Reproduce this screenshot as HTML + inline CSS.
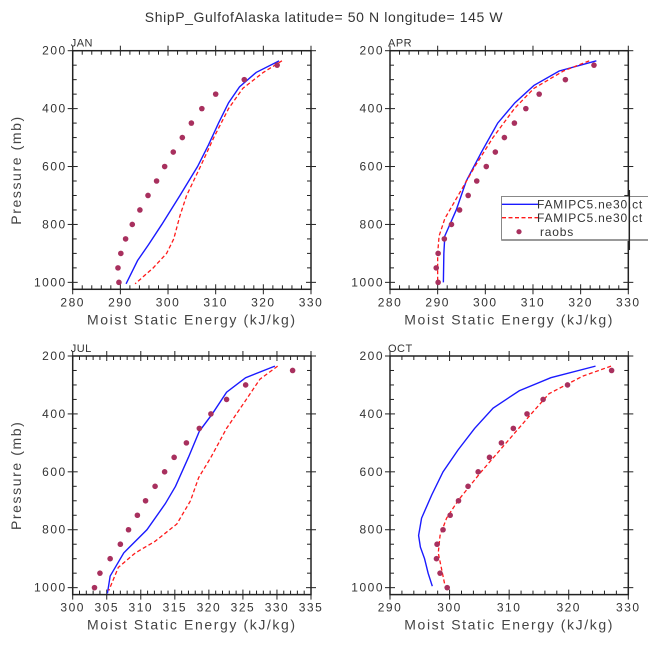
<!DOCTYPE html>
<html><head><meta charset="utf-8">
<style>
html,body{margin:0;padding:0;background:#fff;}
svg{display:block;font-family:"Liberation Sans",sans-serif;}
</style></head>
<body>
<svg id="chart" width="648" height="649" viewBox="0 0 648 649" xmlns="http://www.w3.org/2000/svg">
<rect width="648" height="649" fill="#fff"/>
<text x="324" y="22" font-size="14" letter-spacing="0.6" text-anchor="middle" fill="#333">ShipP_GulfofAlaska  latitude= 50 N longitude= 145 W</text>
</svg>
<script>
// ---- data ----
const panelNames = ["JAN","APR","JUL","OCT"];
const xMins = [280,280,300,290];
const xMaxs = [330,330,335,330];
const xSteps = [10,10,5,10];
const yTicks = [200,400,600,800,1000];

const raobsP = [250,300,350,400,450,500,550,600,650,700,750,800,850,900,950,1000];
const janRaobs = [322.9,316.0,310.0,307.1,304.9,303.0,301.1,299.3,297.6,295.8,294.1,292.5,291.1,290.1,289.5,289.7];
const aprRaobs = [322.8,316.8,311.3,308.5,306.1,304.0,302.1,300.2,298.2,296.4,294.6,292.9,291.4,290.1,289.7,290.1];
const julRaobs = [332.3,325.4,322.6,320.3,318.6,316.7,314.9,313.5,312.1,310.7,309.5,308.2,307.0,305.5,304.0,303.2];
const octRaobs = [327.2,319.8,315.7,313.0,310.7,308.7,306.7,304.8,303.1,301.5,300.1,298.9,297.9,297.8,298.4,299.6];

const janBlueP = [235,275,325,380,450,525,600,700,800,870,925,1005];
const janBlue  = [323.3,318.5,315.0,312.7,310.6,308.5,306.2,302.5,298.7,295.9,293.6,291.2];
const janRedP  = [235,275,330,400,500,600,700,770,850,900,950,1005];
const janRed   = [323.9,320.0,315.7,312.7,309.6,306.8,303.9,302.5,301.2,299.7,296.9,293.1];

const aprBlueP = [235,270,320,380,450,550,650,750,840,900,1000];
const aprBlue  = [323.3,315.5,310.2,306.2,302.6,299.2,296.0,293.9,291.5,291.3,291.2];
const aprRedP  = [235,270,330,400,500,600,700,780,840,900,1000];
const aprRed   = [321.8,316.4,310.2,306.1,301.6,297.8,294.3,291.5,290.3,290.0,290.0];

const julBlueP = [235,275,325,400,460,550,650,710,800,880,960,1020];
const julBlue  = [329.7,325.4,322.6,320.5,318.6,317.0,315.1,313.6,310.9,307.5,305.5,305.1];
const julRedP  = [235,280,350,450,550,620,700,780,840,880,930,1010];
const julRed   = [330.1,327.5,325.5,322.6,320.3,318.5,317.3,315.3,312.1,309.2,306.7,305.3];

const octBlueP = [235,275,320,380,450,525,600,680,760,820,860,900,950,995];
const octBlue  = [324.5,317.0,311.7,307.3,304.2,301.4,298.9,297.0,295.3,294.8,295.1,295.8,296.4,297.1];
const octRedP  = [235,270,330,400,500,600,700,760,820,880,940,990];
const octRed   = [327.1,322.3,316.7,313.7,309.5,305.3,301.4,299.5,298.4,298.1,298.7,299.2];

const panelRaobs = [janRaobs,aprRaobs,julRaobs,octRaobs];
const panelBlue = [[janBlueP,janBlue],[aprBlueP,aprBlue],[julBlueP,julBlue],[octBlueP,octBlue]];
const panelRed = [[janRedP,janRed],[aprRedP,aprRed],[julRedP,julRed],[octRedP,octRed]];

// ---- layout ----
const boxes = [[72.7,50.7],[390,50.7],[72.7,356],[390,356]];
const W = 238.3, H = 238.6, PMIN = 200, PMAX = 1024;
const svg = document.getElementById('chart');
const NS = "http://www.w3.org/2000/svg";
function mk(tag, attrs, parent){const e=document.createElementNS(NS,tag);for(const k in attrs)e.setAttribute(k,attrs[k]);(parent||svg).appendChild(e);return e;}

panelNames.forEach((nm,i)=>{
  const [L,T] = boxes[i];
  const x0 = xMins[i], x1 = xMaxs[i];
  const sx = v => L + (v-x0)/(x1-x0)*W;
  const sy = p => T + (p-PMIN)/(PMAX-PMIN)*H;
  const g = mk('g',{});
  
  
  const t = mk('text',{x:L-2,y:T-4,'font-size':11,'letter-spacing':0.5,fill:'#333'},g);
  t.textContent = nm;
  
  
  const minorX = xSteps[i]===5 ? 1 : 2;
  for(let v=x0; v<=x1+1e-6; v+=minorX){
    const major = Math.abs((v-x0)%xSteps[i])<1e-6;
    const len = major?5:4;
    mk('line',{x1:sx(v),x2:sx(v),y1:T+H-len,y2:T+H+(major?5:0),stroke:'#222','stroke-width':1},g);
    mk('line',{x1:sx(v),x2:sx(v),y1:T-(major?5:0),y2:T+len,stroke:'#222','stroke-width':1},g);
    if(major){
      const lb = mk('text',{x:sx(v),y:T+H+17,'font-size':12,'letter-spacing':1.5,'text-anchor':'middle',fill:'#333'},g);
      lb.textContent = v;
      
      
    }
  }
  for(let p=200; p<=1000; p+=50){
    const major = p%200===0;
    const len = major?5:4;
    mk('line',{x1:L-(major?5:0),x2:L+len,y1:sy(p),y2:sy(p),stroke:'#222','stroke-width':1},g);
    mk('line',{x1:L+W-len,x2:L+W+(major?5:0),y1:sy(p),y2:sy(p),stroke:'#222','stroke-width':1},g);
  }
  yTicks.forEach(p=>{
    const lb = mk('text',{x:L-6,y:sy(p)+4,'font-size':12,'letter-spacing':1.5,'text-anchor':'end',fill:'#333'},g);
    lb.textContent = p;
    
    
  });
  mk('rect',{x:L,y:T,width:W,height:H,fill:'none',stroke:'#222','stroke-width':1.5},g);
  const blue = panelBlue[i], red = panelRed[i];
  const bl = mk('polyline',{points:blue[0].map((p,k)=>sx(blue[1][k])+','+sy(p)).join(' '),fill:'none',stroke:'#1a1aff','stroke-width':1.4},g);
  
  
  const rl = mk('polyline',{points:red[0].map((p,k)=>sx(red[1][k])+','+sy(p)).join(' '),fill:'none',stroke:'#ff1a1a','stroke-width':1.3,'stroke-dasharray':'4,2.5'},g);
  
  
  panelRaobs[i].forEach((v,k)=>{
    const c = mk('circle',{cx:sx(v),cy:sy(raobsP[k]),r:2.8,fill:'#a8305e'},g);
    
    
  });
  const xt = mk('text',{x:L+W/2,y:T+H+35,'font-size':14,'letter-spacing':1.6,'text-anchor':'middle',fill:'#444'},g);
  xt.textContent = 'Moist Static Energy (kJ/kg)';
  
  
  if(i%2===0){
    const yt = mk('text',{x:0,y:0,'font-size':14,'letter-spacing':1.6,'text-anchor':'middle',fill:'#444',transform:`translate(21,${T+H/2}) rotate(-90)`},g);
    yt.textContent = 'Pressure (mb)';
    
    
  }
});

// legend
const lg = mk('g',{});


mk('rect',{x:501.5,y:196.5,width:160,height:43.5,fill:'#fff',stroke:'#888','stroke-width':1},lg);
mk('line',{x1:501.5,x2:648,y1:240,y2:240,stroke:'#999','stroke-width':2},lg);
mk('line',{x1:502,x2:538,y1:204.3,y2:204.3,stroke:'#1a1aff','stroke-width':1.4},lg);
mk('line',{x1:502,x2:538,y1:217.7,y2:217.7,stroke:'#ff1a1a','stroke-width':1.3,'stroke-dasharray':'4,2.5'},lg);
mk('circle',{cx:519,cy:231.7,r:2.6,fill:'#a8305e'},lg);
[['FAMIPC5.ne30.ct',208.5],['FAMIPC5.ne30.ct',222],['raobs',236]].forEach((e,k)=>{
  const t = mk('text',{x:(k<2?537:540),y:e[1],'font-size':12,'letter-spacing':0.8,fill:'#333'},lg);
  t.textContent = e[0];
  
  
});
mk('line',{x1:629.3,x2:629.3,y1:190,y2:250,stroke:'#222','stroke-width':1.5},lg);
</script>
</body></html>
